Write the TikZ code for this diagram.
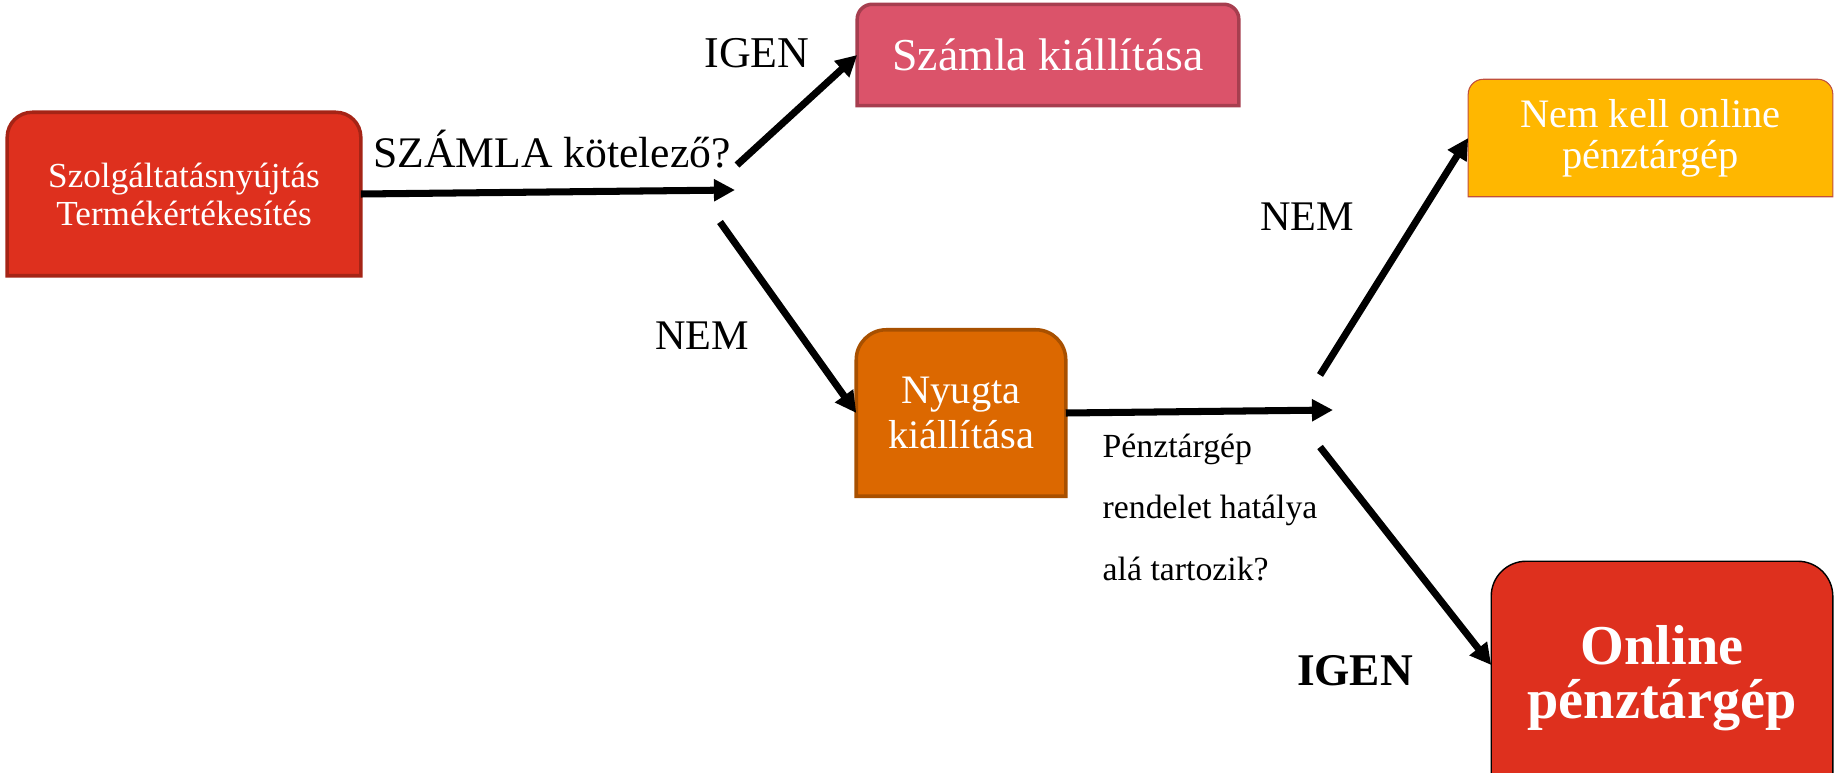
\documentclass[tikz,border=0pt]{standalone}
\usepackage{fontspec}
\setmainfont{Liberation Serif}
\usetikzlibrary{arrows.meta,backgrounds}
\definecolor{szred}{RGB}{222,48,30}
\definecolor{szreddark}{RGB}{165,36,22}
\definecolor{szpink}{RGB}{219,83,106}
\definecolor{szpinkdark}{RGB}{166,62,79}
\definecolor{szorange}{RGB}{220,104,0}
\definecolor{szorangedark}{RGB}{168,80,0}
\definecolor{szyellow}{RGB}{255,183,0}
\definecolor{szyellowline}{RGB}{192,80,60}
\newcommand{\tabbox}[3]{\filldraw[#3] (#1.south west) -- ([yshift=-#2]#1.north west) arc[start angle=180,end angle=90,radius=#2] -- ([xshift=-#2]#1.north east) arc[start angle=90,end angle=0,radius=#2] -- (#1.south east) -- cycle;}

\begin{document}
\begin{tikzpicture}[x=0.01cm,y=0.01cm,
    box/.style={inner sep=0pt,align=center,text=white},
    arr/.style={line width=2pt,-{Triangle[length=6pt,width=6pt]}},
    lbl/.style={anchor=base,inner sep=0pt,font=\fontsize{12}{14}\selectfont}]
    \useasboundingbox (0,0) rectangle (1843,772);
    \node[box,font=\fontsize{10}{10.8}\selectfont,minimum width=3.52cm,minimum height=1.62cm] (szolg) at (184,578) {Szolgáltatásnyújtás\\Termékértékesítés};
    \node[box,font=\fontsize{13}{14}\selectfont,minimum width=3.8cm,minimum height=1cm] (szamla) at (1048,717) {Számla kiállítása};
    \node[box,font=\fontsize{11.5}{12.8}\selectfont,minimum width=2.08cm,minimum height=1.65cm] (nyugta) at (961,359) {Nyugta\\kiállítása};
    \node[box,font=\fontsize{11.5}{11.6}\selectfont,minimum width=3.63cm,minimum height=1.16cm] (nemkell) at (1650.5,634) {Nem kell online\\pénztárgép};
    \node[box,font=\bfseries\fontsize{16}{15.5}\selectfont,minimum width=3.4cm,minimum height=2.32cm] (online) at (1662,94) {Online\\pénztárgép};
    \begin{scope}[on background layer]
      \tabbox{szolg}{0.25cm}{fill=szred,draw=szreddark,line width=1pt}
      \tabbox{szamla}{0.15cm}{fill=szpink,draw=szpinkdark,line width=1pt}
      \tabbox{nyugta}{0.3cm}{fill=szorange,draw=szorangedark,line width=1pt}
      \tabbox{nemkell}{0.15cm}{fill=szyellow,draw=szyellowline,line width=0.3pt}
      \tabbox{online}{0.35cm}{fill=szred}
    \end{scope}
    \coordinate (q1) at (735,582);
    \coordinate (q1a) at (737,607);
    \coordinate (q1b) at (720,550);
    \coordinate (q2) at (1333,362);
    \coordinate (q2a) at (1320,397);
    \coordinate (q2b) at (1320,325);
    \draw[arr] (szolg.east) -- (q1);
    \draw[arr] (q1a) -- (szamla.west);
    \draw[arr] (q1b) -- (nyugta.west);
    \draw[arr] (nyugta.east) -- (q2);
    \draw[arr] (q2a) -- (nemkell.west);
    \draw[arr] (q2b) -- ([yshift=0.13cm]online.west);
    \node[lbl,font=\fontsize{12.4}{14}\selectfont] (kotelezo) at (552,605) {SZÁMLA kötelező?};
    \node[lbl,font=\fontsize{12.5}{14}\selectfont] (igen1) at (757,704) {IGEN};
    \node[lbl] (nem1) at (702,423) {NEM};
    \node[lbl] (nem2) at (1307,542) {NEM};
    \node[lbl,font=\bfseries\fontsize{12.9}{14}\selectfont] (igen2) at (1355,87) {IGEN};
    \node[anchor=base west,inner sep=0pt,align=left,font=\fontsize{9.6}{17.4}\selectfont] (penztar) at (1102,192) {Pénztárgép\\rendelet hatálya\\alá tartozik?};
\end{tikzpicture}
\end{document}
